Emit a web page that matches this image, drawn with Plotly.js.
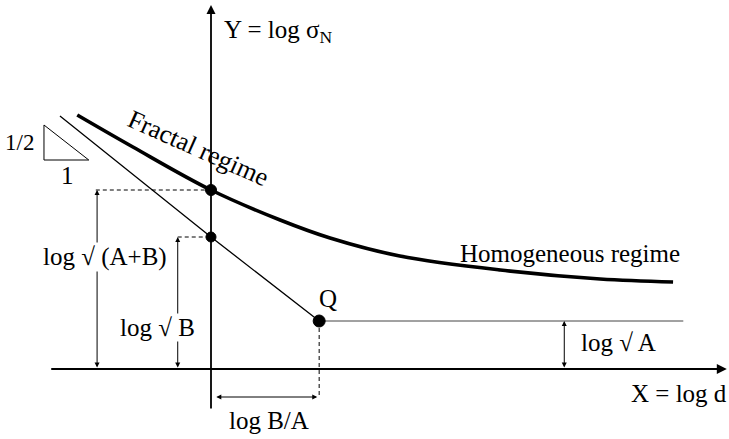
<!DOCTYPE html>
<html>
<head>
<meta charset="utf-8">
<script src="https://cdn.plot.ly/plotly-3.0.1.min.js"></script>
<style>
  html, body { margin: 0; padding: 0; background: #fff; }
  #chart { width: 729px; height: 439px; }
</style>
</head>
<body>
<div id="chart"></div>
<script>
// Size-effect diagram: Y = log sigma_N against X = log d.

// Fractal-to-homogeneous transition curve
const fractalX = [-2.09, -1.22, 0.00, 1.08, 1.86, 2.95, 4.52, 6.08, 7.22];
const fractalY = [2.54, 2.22, 1.79, 1.49, 1.31, 1.13, 0.99, 0.90, 0.87];

// Characteristic levels
const logSqrtAB = 1.79;   // log sqrt(A+B)
const logSqrtB = 1.32;    // log sqrt(B)
const logSqrtA = 0.48;    // log sqrt(A)
const logBA = 1.69;       // log B/A (abscissa of Q)

// Slope -1/2 asymptote, then horizontal asymptote
const powerLawX = [-2.36, 0, logBA];
const powerLawY = [2.53, logSqrtB, logSqrtA];
const plateauX = [logBA, 7.38];
const plateauY = [logSqrtA, logSqrtA];

// Slope triangle
const triX = [-2.61, -2.61, -1.91, -2.61];
const triY = [2.44, 2.09, 2.09, 2.44];

// Axis extents
const xAxisSpan = [-2.52, 8.06];
const yAxisSpan = [-0.41, 3.64];

const ink = '#000';
const font = { family: 'Liberation Serif, Times New Roman, serif', size: 25, color: ink };

const traces = [
  { x: fractalX, y: fractalY, mode: 'lines', line: { color: ink, width: 3.6, shape: 'spline', smoothing: 1 } },
  { x: powerLawX, y: powerLawY, mode: 'lines', line: { color: ink, width: 1.3 } },
  { x: plateauX, y: plateauY, mode: 'lines', line: { color: '#444', width: 1 } },
  { x: triX, y: triY, mode: 'lines', line: { color: ink, width: 1 } },
  // dashed guides
  { x: [-1.80, 0], y: [logSqrtAB, logSqrtAB], mode: 'lines', line: { color: ink, width: 1, dash: '4px,3px' } },
  { x: [-0.52, 0], y: [logSqrtB, logSqrtB], mode: 'lines', line: { color: ink, width: 1, dash: '4px,3px' } },
  { x: [logBA, logBA], y: [logSqrtA, -0.28], mode: 'lines', line: { color: ink, width: 1, dash: '4px,3px' } },
  // key points
  { x: [0, 0, logBA], y: [logSqrtAB, logSqrtB, logSqrtA], mode: 'markers',
    marker: { color: ink, opacity: 1, size: [11, 10, 12], line: { color: ink, width: 1 } } }
];

function arrow(x0, y0, x1, y1, both, w) {
  return {
    x: x1, y: y1, ax: x0, ay: y0, xref: 'x', yref: 'y', axref: 'x', ayref: 'y',
    text: '', showarrow: true, arrowhead: 2, startarrowhead: 2,
    arrowside: both ? 'end+start' : 'end', arrowsize: 1, startarrowsize: 1,
    arrowwidth: w || 1, arrowcolor: ink, standoff: 0, startstandoff: 0
  };
}
function label(text, x, y, opts) {
  return Object.assign({ x: x, y: y, xref: 'x', yref: 'y', text: text, showarrow: false, font: font }, opts || {});
}

const annotations = [
  // axes
  arrow(xAxisSpan[0], 0, xAxisSpan[1], 0, false, 2),
  arrow(0, yAxisSpan[0], 0, yAxisSpan[1], false, 1.8),
  // dimension arrows
  arrow(-1.78, 0, -1.78, logSqrtAB, true, 1),
  arrow(-0.52, 0, -0.52, logSqrtB, true, 1),
  arrow(5.52, 0, 5.52, logSqrtA, true, 1),
  arrow(0.06, -0.28, logBA - 0.03, -0.28, true, 1),
  // texts
  label('log √ (A+B)', -1.66, 1.12, { bgcolor: '#fff', borderpad: 0 }),
  label('log √ B', -0.84, 0.42, { bgcolor: '#fff', borderpad: 0 }),
  label('log √ A', 6.36, 0.27),
  label('X = log d', 7.31, -0.24),
  label('log B/A', 0.91, -0.51),
  label('Q', 1.83, 0.71),
  label('Homogeneous regime', 5.61, 1.16),
  label('Fractal regime', -0.19, 2.21, { textangle: 24, font: Object.assign({}, font, { size: 26 }) }),
  label('Y = log σ<sub>N</sub>', 0.17, 3.38, { xanchor: 'left' }),
  label('1/2', -2.73, 2.27, { xanchor: 'right', font: Object.assign({}, font, { size: 23 }) }),
  label('1', -2.25, 1.94)
];

const layout = {
  width: 729, height: 439, autosize: false,
  margin: { l: 0, r: 0, t: 0, b: 0 },
  paper_bgcolor: '#fff', plot_bgcolor: '#fff',
  showlegend: false,
  xaxis: { range: [-3.297, 8.094], visible: false, fixedrange: true },
  yaxis: { range: [-0.70, 3.69], visible: false, fixedrange: true },
  annotations: annotations
};

Plotly.newPlot('chart', traces, layout, { staticPlot: true, displayModeBar: false });
</script>
</body>
</html>
